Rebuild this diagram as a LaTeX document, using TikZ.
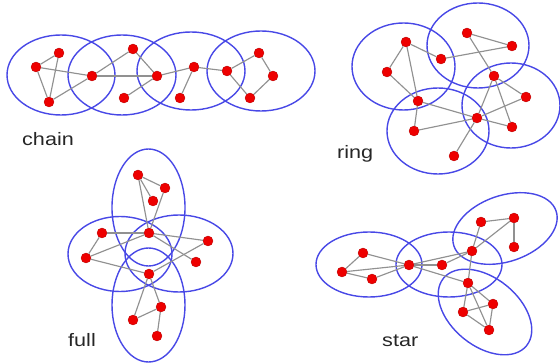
\documentclass[tikz,border=0pt]{standalone}
\usepackage{fontspec}
\usepackage{xcolor}
\usepackage{tikz}
\usetikzlibrary{calc, positioning}
\newfontfamily\nhanfont[FakeStretch=1.2]{Liberation Sans}
\definecolor{mauxanh}{RGB}{72,72,230}
\definecolor{mauxam}{RGB}{145,145,145}
\definecolor{maudo}{RGB}{238,0,0}

\begin{document}
\begin{tikzpicture}[x=1pt, y=-1pt,
    nut/.style={circle, fill=maudo, draw=maudo!75!black, line width=0.3pt, inner sep=0pt, minimum size=10pt},
    canh/.style={mauxam, line width=1.15pt},
    cum/.style={mauxanh, line width=1.4pt},
    nhan/.style={anchor=base west, inner sep=0pt, text=black!85, font=\nhanfont\fontsize{18}{20}\selectfont}]
    \useasboundingbox (0,0) rectangle (560,363);

    % Các cụm (ellipse)
    \draw[cum] (61,75) ellipse [x radius=54, y radius=40];
    \draw[cum] (122,75) ellipse [x radius=54, y radius=40];
    \draw[cum] (191,71) ellipse [x radius=54, y radius=39];
    \draw[cum] (261,71) ellipse [x radius=54, y radius=40];

    \draw[cum] (403.5,66.5) ellipse [x radius=51.5, y radius=43.5];
    \draw[cum] (478,45.5) ellipse [x radius=51, y radius=42.5];
    \draw[cum] (511,105.5) ellipse [x radius=49, y radius=42.5];
    \draw[cum] (438,131) ellipse [x radius=51, y radius=43];

    \draw[cum] (148.5,207.5) ellipse [x radius=36.5, y radius=58.5];
    \draw[cum] (120,254) ellipse [x radius=52, y radius=37.5];
    \draw[cum] (179,253.5) ellipse [x radius=54, y radius=38.5];
    \draw[cum] (148.5,305) ellipse [x radius=36.5, y radius=57];

    \draw[cum] (369,264.5) ellipse [x radius=53, y radius=32.5];
    \draw[cum] (449,264.5) ellipse [x radius=53, y radius=32.5];
    \draw[cum, rotate around={19:(505,228.5)}] (505,228.5) ellipse [x radius=54, y radius=33];
    \draw[cum, rotate around={-39:(485,312)}] (485,312) ellipse [x radius=53.5, y radius=34];

    % Các nút
    \foreach \n/\x/\y in {a1/59/53, a2/36/67, a3/49/102, a4/92/76, a5/133/49, a6/124/98,
        a7/157/76, a8/194/67, a9/180/98, a10/227/71, a11/259/53, a12/273/76, a13/250/98,
        b1/406/42, b2/387/72, b3/441/59, b4/467/33, b5/512/46, b6/494/76,
        b7/526/97, b8/512/127, b9/477/118, b10/418/101, b11/414/131, b12/454/156,
        c1/138/175, c2/165/188, c3/153/201, c4/149/233, c5/102/233, c6/86/258,
        c7/208/241, c8/196/262, c9/149/274, c10/161/307, c11/133/320, c12/157/336,
        d1/363/253, d2/342/272, d3/372/279, d4/409/265, d5/442/265, d6/472/251, d7/481/222,
        d8/514/218, d9/514/247, d10/468/283, d11/463/312, d12/493/304, d13/489/330} {
        \node[nut] (\n) at (\x,\y) {};
    }

    % Các cạnh
    \foreach \u/\v in {a1/a2, a1/a3, a2/a3, a2/a4, a3/a4, a4/a5, a4/a7, a5/a7, a6/a7,
        a7/a8, a8/a9, a8/a10, a10/a11, a11/a12, a12/a13, a10/a13,
        b1/b2, b1/b3, b1/b10, b2/b10, b3/b5, b4/b5, b4/b6, b6/b7, b6/b8, b6/b9,
        b9/b12, b9/b7, b10/b9, b10/b11, b11/b9, b9/b8,
        c1/c2, c1/c3, c1/c4, c2/c4, c4/c5, c5/c6, c6/c4, c4/c7, c4/c8, c6/c9,
        c9/c7, c9/c10, c9/c11, c10/c11, c10/c12,
        d1/d2, d1/d4, d2/d4, d2/d3, d3/d4, d4/d5, d5/d6, d4/d6, d4/d10, d6/d7,
        d7/d8, d8/d9, d6/d8, d6/d10, d10/d11, d10/d12, d10/d13, d11/d12, d11/d13, d12/d13} {
        \draw[canh] (\u) -- (\v);
    }

    % Nhãn
    \node[nhan] (lchain) at (22,146) {chain};
    \node[nhan] (lring) at (337,159) {ring};
    \node[nhan] (lfull) at (68,347) {full};
    \node[nhan] (lstar) at (382,347) {star};
\end{tikzpicture}
\end{document}
